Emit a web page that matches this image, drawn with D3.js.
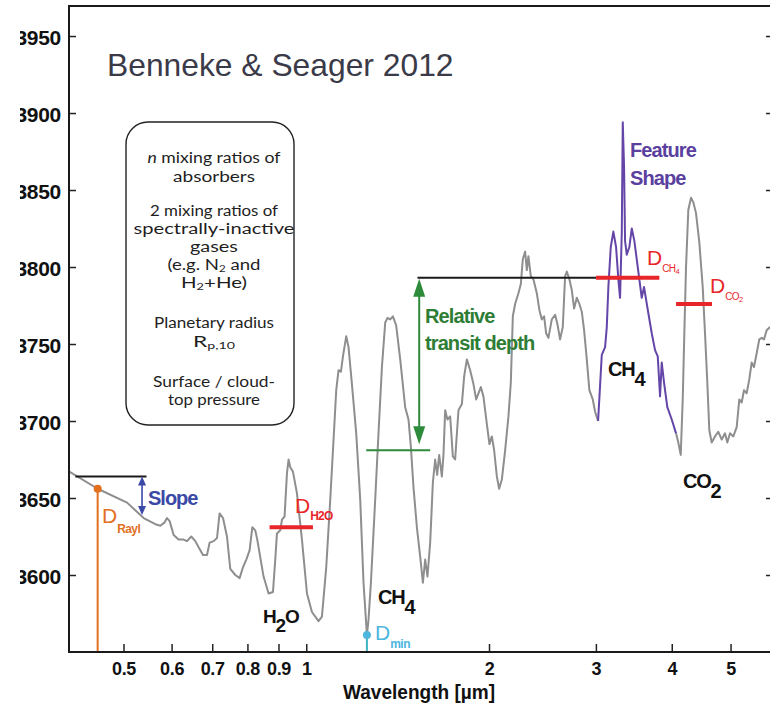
<!DOCTYPE html>
<html>
<head>
<meta charset="utf-8">
<script src="https://cdn.jsdelivr.net/npm/d3@7"></script>
<style>
  html, body { margin: 0; padding: 0; background: #fff; }
  svg { display: block; }
</style>
</head>
<body>
<svg id="chart" width="770" height="706"></svg>
<script>
// ---- Model transmission spectrum: wavelength [µm] and transit depth [ppm] ----
const waveMain = [0.4077,0.4533,0.5068,0.5397,0.5642,0.5749,0.5837,0.5897,0.5956,0.6047,
  0.6162,0.6280,0.6362,0.6466,0.6565,0.6648,0.6759,0.6863,0.6931,0.7037,
  0.7128,0.7198,0.7292,0.7403,0.7496,0.7640,0.7766,0.7866,0.7965,0.8066,
  0.8149,0.8242,0.8304,0.8505,0.8668,0.8814,0.8891,0.8948,0.9061,0.9120,
  0.9210,0.9294,0.9351,0.9411,0.9509,0.9654,0.9838,1.0027,1.0218,1.0477,
  1.0613,1.0787,1.0953,1.1091,1.1204,1.1303,1.1406,1.1493,1.1637,1.1739,
  1.1891,1.2087,1.2271,1.2426,1.2587,1.2664,1.2779,1.2989,1.3152,1.3324,
  1.3492,1.3610,1.3750,1.3891,1.4066,1.4281,1.4553,1.4737,1.4872,1.5019,
  1.5214,1.5405,1.5564,1.5700,1.5837,1.6000,1.6165,1.6306,1.6431,1.6556,
  1.6725,1.6828,1.6937,1.7085,1.7261,1.7438,1.7590,1.7813,1.8044,1.8202,
  1.8389,1.8620,1.8855,1.9049,1.9215,1.9390,1.9582,1.9838,2.0034,2.0218,
  2.0394,2.0604,2.0785,2.0998,2.1263,2.1530,2.1726,2.1892,2.2083,2.2361,
  2.2566,2.2737,2.2937,2.3085,2.3225,2.3437,2.3669,2.3976,2.4215,2.4436,
  2.4650,2.4838,2.5055,2.5380,2.5700,2.5924,2.6191,2.6459,2.6693,2.6866,
  2.7131,2.7379,2.7619,2.7903,2.8180,2.8437,2.8686,2.8980,2.9267,2.9648,
  2.9908,3.0249];
const depthMain = [3667,3656,3647,3637,3633,3632,3634,3637,3635,3626,
  3623,3623,3622,3625,3622,3618,3613,3613,3621,3622,
  3624,3640,3637,3625,3604,3600,3598,3605,3610,3616,
  3631,3629,3623,3599,3588,3589,3610,3627,3629,3636,
  3638,3666,3675,3670,3667,3653,3623,3588,3576,3570,
  3573,3605,3649,3688,3720,3733,3732,3742,3755,3748,
  3724,3692,3649,3595,3561,3571,3595,3649,3692,3735,
  3764,3767,3766,3768,3762,3740,3709,3701,3683,3657,
  3631,3612,3595,3610,3599,3621,3660,3675,3665,3678,
  3664,3678,3707,3701,3703,3677,3675,3707,3711,3729,
  3740,3733,3724,3714,3718,3722,3716,3698,3685,3690,
  3681,3664,3656,3662,3681,3703,3725,3768,3776,3783,
  3789,3805,3810,3798,3807,3794,3792,3783,3772,3766,
  3768,3757,3754,3766,3769,3763,3753,3761,3794,3797,
  3792,3785,3773,3780,3776,3771,3759,3740,3720,3714,
  3706,3700];

// CH4 band highlighted as the "feature shape"
const waveCH4 = [3.0249,3.0479,3.0677,3.1063,3.1264,3.1454,3.1741,3.2055,3.2384,3.2669,
  3.2880,3.3093,3.3219,3.3383,3.3509,3.3724,3.4060,3.4371,3.4711,3.5028,
  3.5375,3.5697,3.6010,3.6286,3.6604,3.7078,3.7545,3.7932,3.8264,3.8511,
  3.8848,3.9336,4.0000,4.0657];
const depthCH4 = [3700,3723,3743,3748,3761,3787,3813,3823,3813,3792,
  3780,3822,3894,3865,3817,3808,3813,3825,3817,3805,
  3792,3780,3787,3779,3770,3757,3746,3742,3716,3738,
  3725,3709,3701,3692];

// CO2 band and the long-wavelength end
const waveTail = [4.0657,4.1010,4.1387,4.1702,4.1956,4.2227,4.2596,4.3034,4.3410,4.3855,
  4.4411,4.4987,4.5379,4.5779,4.6127,4.6548,4.7134,4.7726,4.8344,4.8955,
  4.9383,4.9892,5.0520,5.1175,5.1681,5.2153,5.2609,5.3150,5.3675,5.4169,
  5.4644,5.5204,5.5752,5.6262,5.6755,5.7338,5.8059];
const depthTail = [3692,3686,3678,3714,3757,3800,3837,3845,3842,3835,
  3816,3787,3757,3725,3694,3686,3690,3693,3688,3692,
  3686,3692,3690,3696,3714,3712,3720,3718,3727,3738,
  3735,3744,3753,3754,3753,3759,3761];

// ---- Axis ticks ----
const xTicks = [0.5, 0.6, 0.7, 0.8, 0.9, 1, 2, 3, 4, 5];
const xTickLabels = ["0.5", "0.6", "0.7", "0.8", "0.9", "1", "2", "3", "4", "5"];
const yTicks = [3600, 3650, 3700, 3750, 3800, 3850, 3900, 3950];
const yTickLabels = ["3600", "3650", "3700", "3750", "3800", "3850", "3900", "3950"];

// ---- Retrieval observables ----
const slopeRefWave = [0.4166, 0.5455];   // flat reference for the Rayleigh slope
const slopeRefDepth = 3664;
const slopeArrowWave = 0.5364;
const slopeArrowDepth = [3664, 3639];
const dRaylWave = 0.4533, dRaylDepth = 3656;
const dMinWave = 1.2587, dMinDepth = 3561;
const dH2OWave = [0.8701, 1.0257], dH2ODepth = 3631;
const dCH4Wave = [3.0021, 3.8164], dCH4Depth = 3793;
const dCO2Wave = [4.0658, 4.6604], dCO2Depth = 3776;
const topRefWave = [1.5248, 3.0021];     // continues the D_CH4 level to the left
const baseRefWave = [1.2553, 1.6001], baseRefDepth = 3681;
const depthArrowWave = 1.5348;

// ---- Scales ----
const x = d3.scaleLog().domain([0.4066, 5.873]).range([69, 773]);
const y = d3.scaleLinear().domain([3550, 3969.5]).range([652, 6]);
const [x0, x1] = x.range();
const [yb, yt] = y.range();

const svg = d3.select("#chart");
const defs = svg.append("defs");
defs.append("clipPath").attr("id", "plot-clip").append("rect")
  .attr("x", x0).attr("y", yt).attr("width", x1 - x0).attr("height", yb - yt);
defs.append("clipPath").attr("id", "ylab-clip").append("rect")
  .attr("x", 20).attr("y", 0).attr("width", x0 - 20).attr("height", 706);

const SANS = "'Liberation Sans', Arial, Helvetica, sans-serif";

// ---- Title ----
svg.append("text")
  .attr("x", 107).attr("y", 76)
  .attr("font-family", SANS).attr("font-size", 31.8)
  .attr("fill", "#3a3a48")
  .text("Benneke & Seager 2012");

// ---- Parameter box ----
const box = svg.append("g");
box.append("rect")
  .attr("x", 126).attr("y", 122).attr("width", 168).attr("height", 303)
  .attr("rx", 22).attr("ry", 22)
  .attr("fill", "none").attr("stroke", "#222").attr("stroke-width", 1.4);

const boxLines = [
  { y: 163, w: 133, parts: [["n", "i"], [" mixing ratios of"]] },
  { y: 182, w: 82,  parts: [["absorbers"]] },
  { y: 216, w: 128, parts: [["2 mixing ratios of"]] },
  { y: 234, w: 161, parts: [["spectrally-inactive"]] },
  { y: 252, w: 48,  parts: [["gases"]] },
  { y: 270, w: 93,  parts: [["(e.g. N"], ["2", "s"], [" and", "u"]] },
  { y: 288, w: 66,  parts: [["H"], ["2", "s"], ["+He)", "u"]] },
  { y: 328, w: 120, parts: [["Planetary radius"]] },
  { y: 347, w: 42,  parts: [["R"], ["p,10", "s"]] },
  { y: 387, w: 122, parts: [["Surface / cloud-"]] },
  { y: 405, w: 92,  parts: [["top pressure"]] }
];
boxLines.forEach(line => {
  const t = box.append("text")
    .attr("x", 214).attr("y", line.y)
    .attr("text-anchor", "middle")
    .attr("font-family", "Lato, 'Open Sans', sans-serif")
    .attr("font-size", 14.5).attr("fill", "#1e1e1e")
    .attr("textLength", line.w).attr("lengthAdjust", "spacingAndGlyphs");
  line.parts.forEach(([s, mode]) => {
    const ts = t.append("tspan").text(s);
    if (mode === "i") ts.attr("font-style", "italic");
    if (mode === "s") ts.attr("font-size", 9).attr("dy", 2);
    if (mode === "u") ts.attr("dy", -2);
  });
});

// ---- Axes ----
const axisFont = g => g.selectAll("text")
  .attr("font-family", SANS).attr("font-weight", "bold").attr("fill", "#111");

const gx = svg.append("g")
  .attr("transform", `translate(0,${yb})`)
  .call(d3.axisBottom(x).tickValues(xTicks)
    .tickFormat((d, i) => xTickLabels[i])
    .tickSizeInner(-8).tickSizeOuter(0).tickPadding(10));
gx.select(".domain").remove();
gx.selectAll(".tick line").attr("stroke", "#222").attr("stroke-width", 1.5);
gx.call(axisFont);
gx.selectAll("text").attr("font-size", 18).attr("letter-spacing", -0.3);

const gy = svg.append("g")
  .attr("transform", `translate(${x0},0)`)
  .call(d3.axisLeft(y).tickValues(yTicks)
    .tickFormat((d, i) => yTickLabels[i])
    .tickSizeInner(-7).tickSizeOuter(0).tickPadding(8));
gy.select(".domain").remove();
gy.selectAll(".tick line").attr("stroke", "#222").attr("stroke-width", 1.5);
gy.call(axisFont);
gy.selectAll("text").attr("font-size", 21).attr("dy", "0.4em").attr("letter-spacing", -0.3);
// left labels are partially cut at the page edge
gy.selectAll(".tick text").each(function () {
  const node = this;
  const wrap = gy.append("g").attr("clip-path", "url(#ylab-clip)")
    .attr("transform", `translate(${-x0},0)`);
  const tr = d3.select(node.parentNode).attr("transform");
  const inner = wrap.append("g").attr("transform", `translate(${x0},0) ${tr}`);
  inner.node().appendChild(node);
});

const gr = svg.append("g")
  .attr("transform", `translate(${x1},0)`)
  .call(d3.axisRight(y).tickValues(yTicks).tickFormat("")
    .tickSizeInner(-7).tickSizeOuter(0));
gr.select(".domain").remove();
gr.selectAll(".tick line").attr("stroke", "#222").attr("stroke-width", 1.5);

svg.append("text")
  .attr("x", 419).attr("y", 699)
  .attr("text-anchor", "middle")
  .attr("font-family", SANS).attr("font-weight", "bold").attr("font-size", 19.5)
  .attr("textLength", 152).attr("lengthAdjust", "spacingAndGlyphs")
  .attr("fill", "#111")
  .text("Wavelength [µm]");

// ---- Spectrum ----
const plot = svg.append("g").attr("clip-path", "url(#plot-clip)");
const line = d3.line().x(d => x(d[0])).y(d => y(d[1]));
const zip = (a, b) => a.map((v, i) => [v, b[i]]);

plot.append("path").datum(zip(waveMain, depthMain))
  .attr("d", line).attr("fill", "none")
  .attr("stroke", "#8e8e8e").attr("stroke-width", 2).attr("stroke-linejoin", "round");
plot.append("path").datum(zip(waveTail, depthTail))
  .attr("d", line).attr("fill", "none")
  .attr("stroke", "#8e8e8e").attr("stroke-width", 2).attr("stroke-linejoin", "round");
plot.append("path").datum(zip(waveCH4, depthCH4))
  .attr("d", line).attr("fill", "none")
  .attr("stroke", "#6445a8").attr("stroke-width", 2).attr("stroke-linejoin", "round");

// ---- Annotations ----
const ann = svg.append("g");
const hline = (waves, depth, color, width) => ann.append("line")
  .attr("x1", x(waves[0])).attr("x2", x(waves[1]))
  .attr("y1", y(depth)).attr("y2", y(depth))
  .attr("stroke", color).attr("stroke-width", width);

// arrowhead with its tip at (tx,ty), pointing up (dir=-1) or down (dir=1)
const head = (tx, ty, dir, len, half, color) => ann.append("path")
  .attr("d", `M${tx},${ty} L${tx - half},${ty - dir * len} L${tx + half},${ty - dir * len} Z`)
  .attr("fill", color);

// Rayleigh slope
hline(slopeRefWave, slopeRefDepth, "#1a1a1a", 2);
{
  const ax = x(slopeArrowWave), ya = y(slopeArrowDepth[0]), yb2 = y(slopeArrowDepth[1]);
  ann.append("line").attr("x1", ax).attr("x2", ax).attr("y1", ya + 6).attr("y2", yb2 - 6)
    .attr("stroke", "#3a48a8").attr("stroke-width", 1.6);
  head(ax, ya, -1, 9, 4, "#3a48a8");
  head(ax, yb2, 1, 9, 4, "#3a48a8");
}
ann.append("text").attr("x", 148).attr("y", 505)
  .attr("font-family", SANS).attr("font-weight", "bold").attr("font-size", 20)
  .attr("letter-spacing", -1).attr("fill", "#3a48a6").text("Slope");

// D_Rayl
ann.append("line")
  .attr("x1", x(dRaylWave)).attr("x2", x(dRaylWave))
  .attr("y1", y(dRaylDepth)).attr("y2", yb)
  .attr("stroke", "#e2701f").attr("stroke-width", 2);
ann.append("circle").attr("cx", x(dRaylWave)).attr("cy", y(dRaylDepth)).attr("r", 4)
  .attr("fill", "#e2701f");

// D_min
ann.append("line")
  .attr("x1", x(dMinWave)).attr("x2", x(dMinWave))
  .attr("y1", y(dMinDepth)).attr("y2", yb)
  .attr("stroke", "#3fb3c4").attr("stroke-width", 2);
ann.append("circle").attr("cx", x(dMinWave)).attr("cy", y(dMinDepth)).attr("r", 4)
  .attr("fill", "#4cb6de");

// depth levels
hline(topRefWave, dCH4Depth, "#1a1a1a", 2);
hline(baseRefWave, baseRefDepth, "#2e8b3c", 2);
hline(dH2OWave, dH2ODepth, "#e8262a", 4);
hline(dCH4Wave, dCH4Depth, "#e8262a", 4);
hline(dCO2Wave, dCO2Depth, "#e8262a", 4);

// relative transit depth arrow
{
  const ax = x(depthArrowWave), yTop = y(dCH4Depth) + 1, yBot = y(baseRefDepth) - 6;
  ann.append("line").attr("x1", ax).attr("x2", ax).attr("y1", yTop + 14).attr("y2", yBot - 14)
    .attr("stroke", "#2e8b3c").attr("stroke-width", 2);
  head(ax, yTop, -1, 18, 6, "#2e8b3c");
  head(ax, yBot, 1, 18, 6, "#2e8b3c");
}

const boldLabel = (tx, ty, str, color, size = 20, ls = -0.9) => ann.append("text")
  .attr("x", tx).attr("y", ty)
  .attr("font-family", SANS).attr("font-weight", "bold").attr("font-size", size)
  .attr("letter-spacing", ls).attr("fill", color).text(str);

boldLabel(425, 323, "Relative", "#2e7d34");
boldLabel(425, 350, "transit depth", "#2e7d34");
boldLabel(630, 157, "Feature", "#5b3f9f");
boldLabel(630, 185, "Shape", "#5b3f9f");

// molecule labels with subscripts
const chem = (tx, ty, parts, size = 20) => {
  const t = ann.append("text").attr("x", tx).attr("y", ty)
    .attr("font-family", SANS).attr("font-weight", "bold").attr("font-size", size)
    .attr("letter-spacing", -1.2).attr("fill", "#111");
  parts.forEach(([s, dy]) => t.append("tspan").attr("dy", dy).text(s));
};
chem(263, 623, [["H", 0], ["2", 9], ["O", -9]], 19);
chem(378, 604, [["CH", 0], ["4", 10]]);
chem(608, 376, [["CH", 0], ["4", 10]]);
chem(683, 488, [["CO", 0], ["2", 10]]);

// "D" observables with subscripts
const dLabel = (tx, ty, sub, color, subSize, subWeight, subDy, ls) => {
  const t = ann.append("text").attr("x", tx).attr("y", ty)
    .attr("font-family", SANS).attr("fill", color);
  t.append("tspan").attr("font-size", 21).text("D");
  const s = t.append("tspan").attr("font-size", subSize).attr("font-weight", subWeight)
    .attr("dy", subDy).attr("letter-spacing", ls);
  sub.forEach(([str, small]) => {
    if (small) s.append("tspan").attr("font-size", subSize * 0.75).attr("dy", 2).text(str);
    else s.append("tspan").text(str);
  });
};
dLabel(102, 523, [["Rayl"]], "#e2701f", 12, "bold", 10, -0.6);
dLabel(295, 513, [["H2O"]], "#e8262a", 12, "bold", 7, -0.8);
dLabel(375, 640, [["min"]], "#4cb6de", 12, "bold", 8, -0.5);
dLabel(647, 265, [["CH"], ["4", true]], "#e8262a", 10, "normal", 7, -0.6);
dLabel(710, 293, [["CO"], ["2", true]], "#e8262a", 10, "normal", 7, -0.6);

// ---- Frame ----
svg.append("rect")
  .attr("x", x0).attr("y", yt).attr("width", x1 - x0).attr("height", yb - yt)
  .attr("fill", "none").attr("stroke", "#1a1a1a").attr("stroke-width", 2);
</script>
</body>
</html>
